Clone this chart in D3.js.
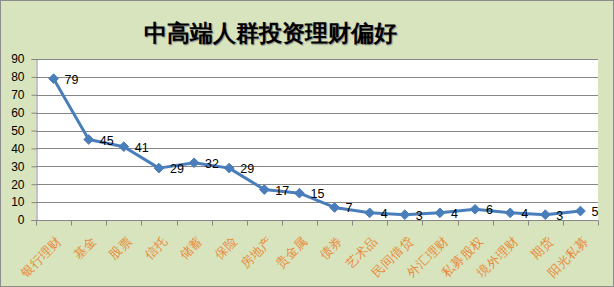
<!DOCTYPE html>
<head>
  <meta charset="utf-8">
  <title>中高端人群投资理财偏好</title>
  <style>
    body { margin: 0; background: #fff; }
    text { font-family: "Liberation Sans", "DejaVu Sans", sans-serif; }
  </style>
</head>
<body>
<svg width="614" height="287"></svg>
<script src="https://d3js.org/d3.v7.min.js"></script>
<script>
  // 数据
  const categories = ["银行理财","基金","股票","信托","储蓄","保险","房地产","贵金属",
                      "债券","艺术品","民间借贷","外汇理财","私募股权","境外理财","期货","阳光私募"];
  const values = [79,45,41,29,32,29,17,15,7,4,3,4,6,4,3,5];
  const yTicks = [0,10,20,30,40,50,60,70,80,90];
  const title = "中高端人群投资理财偏好";

  const svg = d3.select("svg");
  const width = +svg.attr("width"),
        height = +svg.attr("height");

  // 背景
  svg.append("rect")
    .attr("x",0.5).attr("y",0.5)
    .attr("width",width-1).attr("height",height-1)
    .attr("fill","#d7e4bd")
    .attr("stroke","#8c8c8c")

  const plotL = 36, plotR = 598, plotT = 59, plotB = 220;

  const x = d3.scaleBand().domain(categories).range([plotL,plotR]);
  const y = d3.scaleLinear().domain([0,90]).range([plotB,plotT]);

  svg.append("rect")
    .attr("x",plotL).attr("y",plotT)
    .attr("width",plotR-plotL).attr("height",plotB-plotT)
    .attr("fill","#fff")

  // 网格线
  svg.append("g")
    .selectAll("line")
    .data(yTicks.filter(d => d > 0))
    .enter().append("line")
    .attr("x1",plotL).attr("x2",plotR)
    .attr("y1",d => Math.round(y(d))+0.5).attr("y2",d => Math.round(y(d))+0.5)
    .attr("stroke","#868686")

  // y 轴
  const yAxis = svg.append("g")
    .attr("transform",`translate(${plotL+0.5},0)`)
    .call(d3.axisLeft(y).tickValues(yTicks).tickSize(5).tickPadding(7))
  yAxis.select(".domain").attr("stroke","#868686")
  yAxis.selectAll(".tick line").attr("stroke","#868686")
  yAxis.selectAll("text").attr("fill","#000")
    .attr("font-family","'DejaVu Sans', sans-serif").attr("font-size",12)

  // x 轴
  const xAxis = svg.append("g")
    .attr("transform",`translate(0,${plotB+0.5})`)
  xAxis.append("line")
    .attr("x1",plotL).attr("x2",plotR)
    .attr("stroke","#868686")
  const edges = categories.map(c => x(c)).concat([plotR]);
  xAxis.selectAll("line.tk")
    .data(edges)
    .enter().append("line")
    .attr("class","tk")
    .attr("x1",d => Math.round(d)+0.5).attr("x2",d => Math.round(d)+0.5)
    .attr("y1",0).attr("y2",5)
    .attr("stroke","#868686")

  xAxis.selectAll("text")
    .data(categories)
    .enter().append("text")
    .attr("transform",d => `translate(${x(d)+x.bandwidth()/2+9},${21}) rotate(-45)`)
    .attr("text-anchor","end")
    .attr("font-family","'Noto Serif CJK SC','Noto Sans CJK SC',serif")
    .attr("font-size",12.5)
    .attr("fill","#e98a3a")
    .text(d => d)

  // 折线
  const cx = (d,i) => x(categories[i]) + x.bandwidth()/2;
  const line = d3.line()
    .x((d,i) => cx(d,i))
    .y(d => y(d));

  svg.append("path")
    .datum(values)
    .attr("d",line)
    .attr("fill","none")
    .attr("stroke","#4a7ebb")
    .attr("stroke-width",3)
    .attr("stroke-linejoin","round")

  svg.append("g")
    .selectAll("path")
    .data(values)
    .enter().append("path")
    .attr("d",d3.symbol(d3.symbolDiamond2,60))
    .attr("transform",(d,i) => `translate(${cx(d,i)},${y(d)})`)
    .attr("fill","#4a7ebb")
    .attr("stroke","#4a7ebb")

  // 数据标签
  svg.append("g")
    .selectAll("text")
    .data(values)
    .enter().append("text")
    .attr("x",(d,i) => cx(d,i)+11)
    .attr("y",d => y(d)+5)
    .attr("font-family","'DejaVu Sans', sans-serif")
    .attr("font-size",12.5)
    .attr("fill","#000")
    .text(d => d)

  // 标题
  svg.append("text")
    .attr("x",270).attr("y",41)
    .attr("text-anchor","middle")
    .attr("font-family","'Noto Sans CJK SC',sans-serif")
    .attr("font-weight","bold")
    .attr("font-size",22.5)
    .attr("fill","#000")
    .style("text-shadow","1px 1px 1px #888")
    .text(title)
</script>
</body>
